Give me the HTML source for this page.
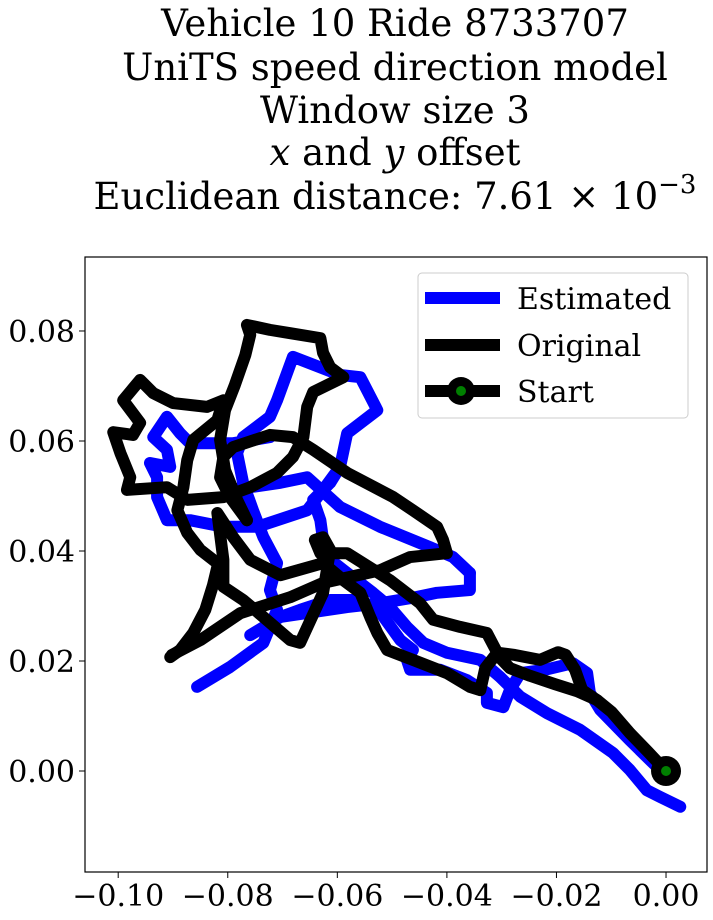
<!DOCTYPE html>
<html><head><meta charset="utf-8"><style>
html,body{margin:0;padding:0;background:#fff;}
svg{display:block;font-family:"DejaVu Serif","Liberation Serif",serif;}
</style></head><body>
<svg id="chart" width="713" height="920">
<g font-size="37" text-anchor="middle" fill="#000">
<text x="395" y="36">Vehicle 10 Ride 8733707</text>
<text x="395" y="80">UniTS speed direction model</text>
<text x="395" y="123">Window size 3</text>
<text x="395" y="165"><tspan font-style="italic">x</tspan> and <tspan font-style="italic">y</tspan> offset</text>
<text x="395" y="209">Euclidean distance: 7.61 × 10<tspan dy="-16" font-size="26">−3</tspan></text>
</g>
<rect x="85" y="257" width="622" height="615" fill="none" stroke="#000" stroke-width="1.2"/>
<g id="ticks"></g>
<g id="series"></g>
<g>
<rect x="418" y="273" width="270" height="145" rx="4" fill="#fff" fill-opacity="0.85" stroke="#ccc"/>
<line x1="425" y1="298" x2="500" y2="298" stroke="#0000ff" stroke-width="12"/>
<text x="517" y="309" font-size="30">Estimated</text>
<line x1="425" y1="345" x2="500" y2="345" stroke="#000" stroke-width="12"/>
<text x="517" y="356" font-size="30">Original</text>
<line x1="425" y1="391" x2="500" y2="391" stroke="#000" stroke-width="12"/>
<circle cx="461" cy="391" r="14" fill="#000"/>
<circle cx="461" cy="391" r="5" fill="#008000"/>
<text x="517" y="402" font-size="30">Start</text>
</g>
</svg>
<script>
const xTicks=[-0.10,-0.08,-0.06,-0.04,-0.02,0.00];
const xTickLabels=["−0.10","−0.08","−0.06","−0.04","−0.02","0.00"];
const yTicks=[0.00,0.02,0.04,0.06,0.08];
const yTickLabels=["0.00","0.02","0.04","0.06","0.08"];
const startPoint=[0,0];
const estX=[
[0.0026,-0.0011,-0.0035,-0.0066,-0.0097,-0.0157,-0.0217,-0.0266,-0.0303,-0.0339,-0.0400,-0.0443,-0.0473,-0.0504,-0.0535,-0.0582,-0.0613,-0.0626,-0.0631,-0.0644,-0.0613,-0.0595,-0.0582,-0.0527,-0.0558,-0.0595,-0.0681,-0.0710,-0.0723,-0.0772,-0.0783,-0.0772,-0.0754,-0.0735,-0.0710,-0.0723,-0.0710,-0.0735,-0.0796,-0.0856],
[-0.0011,-0.0066,-0.0120,-0.0139,-0.0144,-0.0170,-0.0221,-0.0266,-0.0285,-0.0297,-0.0327,-0.0327,-0.0363,-0.0412,-0.0467,-0.0473,-0.0462,-0.0485,-0.0522,-0.0558,-0.0613,-0.0668,-0.0704],
[-0.0358,-0.0358,-0.0418,-0.0462,-0.0522,-0.0582,-0.0704,-0.0759],
[-0.0358,-0.0389,-0.0431,-0.0522,-0.0595,-0.0655,-0.0704,-0.0759,-0.0796],
[-0.0723,-0.0790,-0.0869,-0.0887,-0.0911,-0.0936,-0.0911,-0.0905,-0.0942,-0.0929,-0.0929,-0.0911,-0.0869,-0.0808,-0.0746,-0.0655,-0.0626,-0.0595]
];
const estY=[
[-0.0065,-0.0047,-0.0035,0.0002,0.0033,0.0075,0.0105,0.0135,0.0171,0.0202,0.0215,0.0233,0.0262,0.0298,0.0324,0.0360,0.0384,0.0420,0.0456,0.0493,0.0524,0.0553,0.0614,0.0656,0.0716,0.0720,0.0753,0.0674,0.0644,0.0607,0.0578,0.0524,0.0474,0.0425,0.0378,0.0329,0.0293,0.0233,0.0189,0.0153],
[0.0002,0.0056,0.0111,0.0142,0.0178,0.0196,0.0184,0.0178,0.0147,0.0116,0.0124,0.0142,0.0165,0.0184,0.0184,0.0202,0.0220,0.0238,0.0289,0.0311,0.0311,0.0293,0.0280],
[0.0360,0.0329,0.0324,0.0315,0.0305,0.0298,0.0280,0.0247],
[0.0360,0.0389,0.0407,0.0444,0.0480,0.0534,0.0524,0.0516,0.0511],
[0.0607,0.0596,0.0596,0.0614,0.0644,0.0607,0.0584,0.0553,0.0560,0.0534,0.0498,0.0456,0.0456,0.0444,0.0444,0.0474,0.0511,0.0553]
];
const origX=[
[0,-0.0033,-0.0066,-0.0099,-0.0126,-0.0162,-0.0203,-0.0248,-0.0285,-0.0308],
[-0.0308,-0.0276,-0.0230,-0.0197,-0.0183,-0.0166,-0.0153,-0.0126],
[-0.0308,-0.0330,-0.0339,-0.0358,-0.0400,-0.0462,-0.0509,-0.0527,-0.0540,-0.0558,-0.0589,-0.0626,-0.0704,-0.0759,-0.0790,-0.0819,-0.0808,-0.0808,-0.0772,-0.0735,-0.0686,-0.0668,-0.0626,-0.0613,-0.0626,-0.0641,-0.0631,-0.0582,-0.0504,-0.0449,-0.0425,-0.0376,-0.0327,-0.0308],
[-0.0905,-0.0887,-0.0863,-0.0841,-0.0827,-0.0819],
[-0.0902,-0.0850,-0.0777,-0.0686,-0.0626,-0.0522,-0.0467,-0.0400,-0.0407,-0.0418,-0.0462,-0.0498,-0.0582,-0.0644,-0.0681,-0.0723,-0.0790,-0.0808,-0.0814,-0.0796,-0.0765],
[-0.0765,-0.0783,-0.0805,-0.0814,-0.0805,-0.0787,-0.0768,-0.0759,-0.0765,-0.0723,-0.0686,-0.0631,-0.0626,-0.0613,-0.0589,-0.0644,-0.0655,-0.0662,-0.0681,-0.0710,-0.0759,-0.0808,-0.0874,-0.0911,-0.0984,-0.0978,-0.0996,-0.1009,-0.0973,-0.0960,-0.0991,-0.0960,-0.0936,-0.0900,-0.0838,-0.0808,-0.0819,-0.0863,-0.0874,-0.0881,-0.0892,-0.0874,-0.0850,-0.0819]
];
const origY=[
[0,0.0035,0.0069,0.0107,0.0129,0.0145,0.0158,0.0173,0.0187,0.0211],
[0.0215,0.0211,0.0202,0.0216,0.0211,0.0184,0.0147,0.0129],
[0.0215,0.0187,0.0147,0.0153,0.0178,0.0202,0.0220,0.0251,0.0280,0.0324,0.0347,0.0378,0.0356,0.0384,0.0425,0.0469,0.0384,0.0335,0.0311,0.0280,0.0238,0.0233,0.0324,0.0402,0.0425,0.0420,0.0396,0.0396,0.0347,0.0305,0.0275,0.0262,0.0251,0.0215],
[0.0207,0.0220,0.0251,0.0293,0.0338,0.0371],
[0.0211,0.0238,0.0287,0.0316,0.0342,0.0365,0.0389,0.0396,0.0420,0.0444,0.0474,0.0498,0.0542,0.0584,0.0607,0.0611,0.0589,0.0571,0.0534,0.0498,0.0456],
[0.0456,0.0493,0.0547,0.0602,0.0656,0.0702,0.0756,0.0793,0.0811,0.0802,0.0796,0.0787,0.0760,0.0734,0.0716,0.0689,0.0662,0.0607,0.0571,0.0542,0.0516,0.0498,0.0493,0.0516,0.0511,0.0534,0.0578,0.0616,0.0611,0.0633,0.0674,0.0711,0.0687,0.0669,0.0662,0.0674,0.0638,0.0602,0.0565,0.0516,0.0474,0.0433,0.0402,0.0378]
];
const NS="http://www.w3.org/2000/svg";
const X0=-0.10606,X1=0.00748,Y0=-0.01836,Y1=0.09345;
const L=85,R=707,T=257,B=872;
function sx(v){return L+(v-X0)/(X1-X0)*(R-L);}
function sy(v){return B-(v-Y0)/(Y1-Y0)*(B-T);}
const tg=document.getElementById('ticks');
xTicks.forEach((t,i)=>{
  const ln=document.createElementNS(NS,'line');
  ln.setAttribute('x1',sx(t));ln.setAttribute('x2',sx(t));ln.setAttribute('y1',B);ln.setAttribute('y2',B+6);ln.setAttribute('stroke','#000');
  
  
  tg.appendChild(ln);
  const tx=document.createElementNS(NS,'text');
  tx.setAttribute('x',sx(t));tx.setAttribute('y',B+34);tx.setAttribute('text-anchor','middle');tx.setAttribute('font-size','30');
  tx.textContent=xTickLabels[i];
  
  
  tg.appendChild(tx);
});
yTicks.forEach((t,i)=>{
  const ln=document.createElementNS(NS,'line');
  ln.setAttribute('x1',L-6);ln.setAttribute('x2',L);ln.setAttribute('y1',sy(t));ln.setAttribute('y2',sy(t));ln.setAttribute('stroke','#000');
  
  
  tg.appendChild(ln);
  const tx=document.createElementNS(NS,'text');
  tx.setAttribute('x',L-10);tx.setAttribute('y',sy(t)+11);tx.setAttribute('text-anchor','end');tx.setAttribute('font-size','30');
  tx.textContent=yTickLabels[i];
  
  
  tg.appendChild(tx);
});
const sg=document.getElementById('series');
function draw(xs,ys,color,name){
  xs.forEach((arr,k)=>{
    const p=document.createElementNS(NS,'polyline');
    p.setAttribute('points',arr.map((v,j)=>sx(v)+','+sy(ys[k][j])).join(' '));
    p.setAttribute('fill','none');p.setAttribute('stroke',color);p.setAttribute('stroke-width','12');
    p.setAttribute('stroke-linejoin','round');p.setAttribute('stroke-linecap','round');
    
    
    sg.appendChild(p);
  });
}
draw(estX,estY,'#0000ff','estimated-path');
draw(origX,origY,'#000000','original-path');
const c1=document.createElementNS(NS,'circle');
c1.setAttribute('cx',sx(startPoint[0]));c1.setAttribute('cy',sy(startPoint[1]));c1.setAttribute('r','15');c1.setAttribute('fill','#000');


sg.appendChild(c1);
const c2=document.createElementNS(NS,'circle');
c2.setAttribute('cx',sx(startPoint[0]));c2.setAttribute('cy',sy(startPoint[1]));c2.setAttribute('r','5');c2.setAttribute('fill','#008000');


sg.appendChild(c2);
</script>
</body></html>
